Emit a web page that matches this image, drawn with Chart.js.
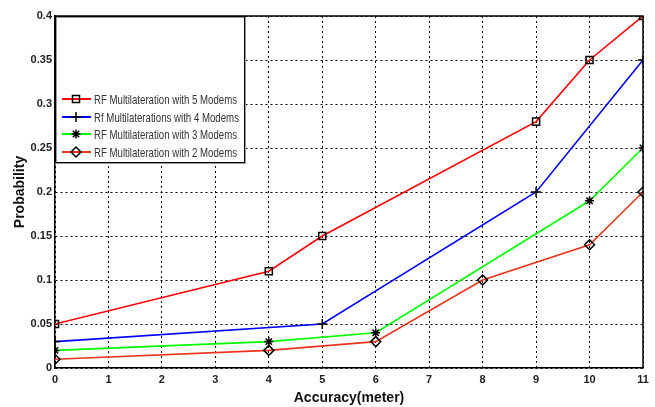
<!DOCTYPE html>
<html>
<head>
<meta charset="utf-8">
<script src="https://cdn.jsdelivr.net/npm/chart.js@4/dist/chart.umd.min.js"></script>
<style>
  html, body { margin: 0; padding: 0; background: #fff; }
  #wrap { width: 655px; height: 407px; }
</style>
</head>
<body>
<div id="wrap"><canvas id="chart" width="655" height="407"></canvas></div>
<script>
// values
const labels = [
  "RF Multilateration with 5 Modems",
  "Rf Multilaterations with 4 Modems",
  "RF Multilateration with 3 Modems",
  "RF Multilateration with 2 Modems"
];
const x5 = [0, 4, 5, 9, 10, 11];
const y5 = [0.05, 0.11, 0.15, 0.28, 0.35, 0.4];
const x4 = [0, 5, 9, 11];
const y4 = [0.03, 0.05, 0.2, 0.35];
const x3 = [0, 4, 6, 10, 11];
const y3 = [0.02, 0.03, 0.04, 0.19, 0.25];
const x2 = [0, 4, 6, 8, 10, 11];
const y2 = [0.01, 0.02, 0.03, 0.1, 0.14, 0.2];
const xTicks = [0, 1, 2, 3, 4, 5, 6, 7, 8, 9, 10, 11];
const yTicks = [0, 0.05, 0.1, 0.15, 0.2, 0.25, 0.3, 0.35, 0.4];

const colors = ["#ff0000", "#0000ff", "#00ff00", "#e8341c"];
const markers = ["rect", "cross", "star", "rectRot"];

function pts(xs, ys) {
  return xs.map((x, i) => ({ x: x, y: ys[i] }));
}

function makeSet(i, xs, ys) {
  const star = markers[i] === "star";
  return {
    label: labels[i],
    data: pts(xs, ys),
    borderColor: colors[i],
    borderWidth: 1.6,
    pointStyle: markers[i],
    pointRadius: star ? 4.5 : 5,
    pointBorderColor: "#000",
    pointBackgroundColor: star ? "#000" : "rgba(0,0,0,0)",
    pointBorderWidth: 1.5,
    tension: 0
  };
}

const tickFont = { family: "'Liberation Sans', Arial", size: 11, weight: "bold" };

const frameAndLegend = {
  id: "frameAndLegend",
  afterDatasetsDraw(chart) {
    const ctx = chart.ctx;
    const a = chart.chartArea;
    ctx.save();
    // top / right frame
    ctx.strokeStyle = "#000";
    ctx.lineWidth = 1.5;
    ctx.beginPath();
    ctx.moveTo(a.left, a.top);
    ctx.lineTo(a.right, a.top);
    ctx.lineTo(a.right, a.bottom);
    ctx.stroke();

    // legend box
    const bx = a.left, by = a.top, bw = 189, bh = 146;
    ctx.fillStyle = "#fff";
    ctx.fillRect(bx, by, bw, bh);
    ctx.strokeStyle = "#999";
    ctx.lineWidth = 1;
    ctx.strokeRect(bx + 1.5, by + 1.5, bw, bh);
    ctx.strokeStyle = "#000";
    ctx.strokeRect(bx + 0.5, by + 0.5, bw, bh);

    const rows = [99, 117, 134, 152];
    ctx.font = "13px 'Liberation Sans', Arial";
    ctx.textBaseline = "middle";
    chart.data.datasets.forEach((ds, i) => {
      const y = rows[i];
      ctx.strokeStyle = ds.borderColor;
      ctx.lineWidth = 2;
      ctx.beginPath();
      ctx.moveTo(62, y);
      ctx.lineTo(91, y);
      ctx.stroke();
      ctx.strokeStyle = "#000";
      ctx.fillStyle = ds.pointBackgroundColor;
      ctx.lineWidth = ds.pointBorderWidth;
      Chart.helpers.drawPoint(ctx, { pointStyle: ds.pointStyle, radius: ds.pointRadius, rotation: 0, borderWidth: ds.pointBorderWidth }, 76, y);
      ctx.fillStyle = "#333";
      ctx.fillText(ds.label, 94, y + 1, i === 1 ? 145 : 143);
    });
    ctx.restore();
  }
};

new Chart(document.getElementById("chart"), {
  type: "line",
  data: {
    datasets: [
      makeSet(0, x5, y5),
      makeSet(1, x4, y4),
      makeSet(2, x3, y3),
      makeSet(3, x2, y2)
    ]
  },
  options: {
    responsive: false,
    animation: false,
    layout: { padding: { top: 16, right: 12, left: 0, bottom: 0 } },
    plugins: { legend: { display: false }, tooltip: { enabled: false } },
    scales: {
      x: {
        type: "linear",
        min: 0,
        max: 11,
        afterBuildTicks(scale) { scale.ticks = xTicks.map(v => ({ value: v })); },
        afterFit(scale) { scale.height = 39; },
        grid: { color: "#000", lineWidth: 1, drawTicks: false },
        border: { color: "#000", width: 1.5, dash: [2, 3] },
        ticks: { color: "#222", font: tickFont, padding: 5, maxRotation: 0 },
        title: {
          display: true,
          text: "Accuracy(meter)",
          color: "#111",
          font: { family: "Arial, 'Liberation Sans'", size: 14, weight: "bold" },
          padding: { top: 2, bottom: 0 }
        }
      },
      y: {
        min: 0,
        max: 0.4,
        afterBuildTicks(scale) { scale.ticks = yTicks.map(v => ({ value: v })); },
        afterFit(scale) { scale.width = 55; },
        grid: { color: "#000", lineWidth: 1, drawTicks: false },
        border: { color: "#000", width: 1.5, dash: [2, 3] },
        ticks: {
          color: "#222",
          font: tickFont,
          padding: 3,
          callback: v => String(Math.round(v * 100) / 100)
        },
        title: {
          display: true,
          text: "Probability",
          color: "#111",
          font: { family: "Arial, 'Liberation Sans'", size: 14, weight: "bold" },
          padding: { top: 12, bottom: 0 }
        }
      }
    }
  },
  plugins: [frameAndLegend]
});
</script>
</body>
</html>
